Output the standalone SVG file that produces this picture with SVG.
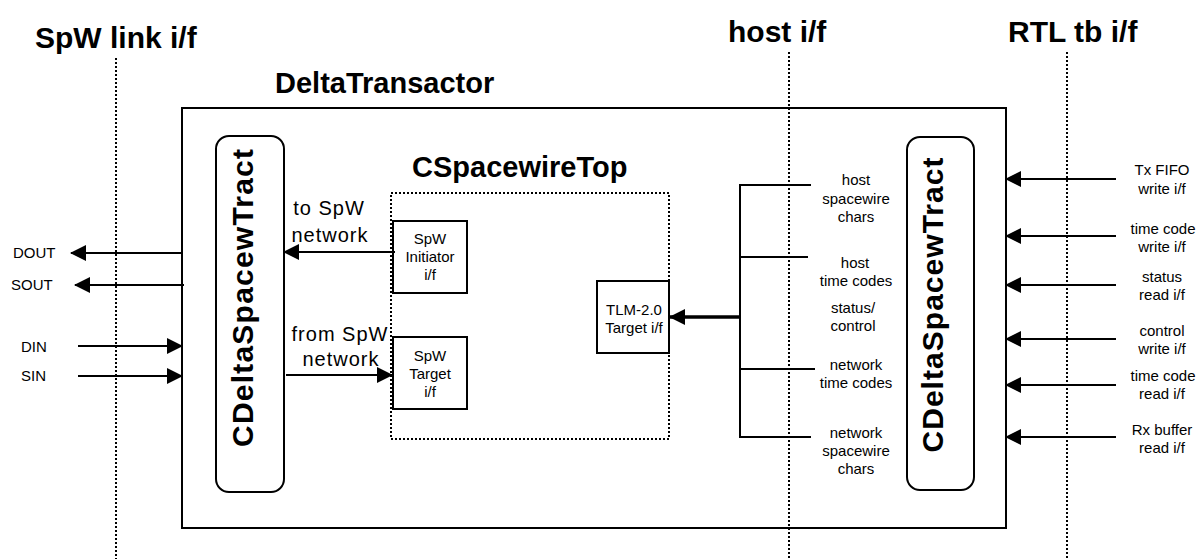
<svg xmlns="http://www.w3.org/2000/svg" width="1200" height="559" viewBox="0 0 1200 559">
  <style>
    .bg { fill: #ffffff; }
    .box { fill: none; stroke: #000; stroke-width: 2; }
    .dot { fill: none; stroke: #000; stroke-width: 2; stroke-dasharray: 2 2; }
    .wire { fill: none; stroke: #000; stroke-width: 2; }
    .thick { fill: none; stroke: #000; stroke-width: 3.5; }
    .t { font-family: "Liberation Sans", Arial, sans-serif; fill: #000; }
    .title { font-size: 30px; font-weight: bold; }
    .hdr { font-size: 29px; font-weight: bold; }
    .vert { font-size: 30px; font-weight: bold; }
    .sm { font-size: 15px; }
    .net { font-size: 20px; letter-spacing: 1px; }
    .mid { text-anchor: middle; }
  </style>
  <defs>
    <marker id="arrow" viewBox="0 0 16 16" refX="15" refY="8" markerWidth="16" markerHeight="16" markerUnits="userSpaceOnUse" orient="auto">
      <path d="M0,0 L16,8 L0,16 Z" fill="#000"/>
    </marker>
  </defs>

  <rect class="bg" x="0" y="0" width="1200" height="559"/>

  <!-- interface boundaries -->
  <g id="boundaries">
    <line class="dot" x1="116" y1="58" x2="116" y2="559"/>
    <line class="dot" x1="789" y1="52" x2="789" y2="559"/>
    <line class="dot" x1="1067" y1="52" x2="1067" y2="559"/>
    <text class="t title" x="35" y="48">SpW link i/f</text>
    <text class="t title" x="728" y="42">host i/f</text>
    <text class="t title" x="1008" y="42">RTL tb i/f</text>
  </g>

  <!-- outer transactor -->
  <g id="delta-transactor">
    <rect class="box" x="182" y="108" width="824" height="420"/>
    <text class="t hdr" x="275" y="93">DeltaTransactor</text>
  </g>

  <!-- link-side tract -->
  <g id="tract-left">
    <rect class="box" x="216" y="136" width="68" height="356" rx="13" ry="13"/>
    <text class="t vert mid" transform="translate(253,298) rotate(-90)" textLength="298" lengthAdjust="spacing">CDeltaSpacewTract</text>
  </g>

  <!-- RTL-side tract -->
  <g id="tract-right">
    <rect class="box" x="907" y="137" width="67" height="353" rx="13" ry="13"/>
    <text class="t vert mid" transform="translate(943,305) rotate(-90)" textLength="295" lengthAdjust="spacing">CDeltaSpacewTract</text>
  </g>

  <!-- spacewire top -->
  <g id="spacewire-top">
    <rect class="dot" x="391" y="193" width="278" height="246"/>
    <text class="t hdr" x="412" y="177">CSpacewireTop</text>
  </g>

  <g id="spw-initiator">
    <rect class="box" x="393" y="221" width="74" height="72"/>
    <text class="t sm mid" x="430" y="244">SpW</text>
    <text class="t sm mid" x="430" y="262">Initiator</text>
    <text class="t sm mid" x="430" y="280">i/f</text>
  </g>

  <g id="spw-target">
    <rect class="box" x="393" y="337" width="74" height="72"/>
    <text class="t sm mid" x="430" y="361">SpW</text>
    <text class="t sm mid" x="430" y="379">Target</text>
    <text class="t sm mid" x="430" y="397">i/f</text>
  </g>

  <g id="tlm-target">
    <rect class="box" x="597" y="281" width="72" height="72"/>
    <text class="t sm mid" x="634" y="315">TLM-2.0</text>
    <text class="t sm mid" x="634" y="333">Target i/f</text>
  </g>

  <!-- connectors -->
  <g id="connectors">
    <!-- link pins -->
    <line class="wire" x1="182" y1="253" x2="71" y2="253" marker-end="url(#arrow)"/>
    <line class="wire" x1="184" y1="285" x2="75" y2="285" marker-end="url(#arrow)"/>
    <line class="wire" x1="78" y1="346" x2="182" y2="346" marker-end="url(#arrow)"/>
    <line class="wire" x1="78" y1="376" x2="182" y2="376" marker-end="url(#arrow)"/>

    <!-- SpW network paths -->
    <line class="wire" x1="395" y1="252" x2="284" y2="252" marker-end="url(#arrow)"/>
    <line class="wire" x1="286" y1="375" x2="392" y2="375" marker-end="url(#arrow)"/>

    <!-- host bus -->
    <polyline class="wire" points="811,185 740,185 740,437 811,437"/>
    <line class="wire" x1="740" y1="257" x2="808" y2="257"/>
    <line class="wire" x1="740" y1="369" x2="815" y2="369"/>
    <line class="thick" x1="740" y1="317" x2="670" y2="317" marker-end="url(#arrow)"/>

    <!-- RTL testbench interfaces -->
    <line class="wire" x1="1116" y1="179" x2="1006" y2="179" marker-end="url(#arrow)"/>
    <line class="wire" x1="1116" y1="236" x2="1006" y2="236" marker-end="url(#arrow)"/>
    <line class="wire" x1="1116" y1="285" x2="1006" y2="285" marker-end="url(#arrow)"/>
    <line class="wire" x1="1116" y1="339" x2="1006" y2="339" marker-end="url(#arrow)"/>
    <line class="wire" x1="1116" y1="385" x2="1006" y2="385" marker-end="url(#arrow)"/>
    <line class="wire" x1="1116" y1="437" x2="1006" y2="437" marker-end="url(#arrow)"/>
  </g>

  <!-- connector labels -->
  <g id="labels">
    <text class="t sm" x="13" y="258">DOUT</text>
    <text class="t sm" x="11" y="290">SOUT</text>
    <text class="t sm" x="21" y="352">DIN</text>
    <text class="t sm" x="21" y="381">SIN</text>

    <text class="t net mid" x="329" y="215">to SpW</text>
    <text class="t net mid" x="330" y="242">network</text>
    <text class="t net mid" x="340" y="341">from SpW</text>
    <text class="t net mid" x="341" y="366">network</text>

    <text class="t sm mid" x="856" y="185">host</text>
    <text class="t sm mid" x="856" y="204">spacewire</text>
    <text class="t sm mid" x="856" y="222">chars</text>
    <text class="t sm mid" x="855" y="268">host</text>
    <text class="t sm mid" x="856" y="286">time codes</text>
    <text class="t sm mid" x="853" y="313">status/</text>
    <text class="t sm mid" x="853" y="331">control</text>
    <text class="t sm mid" x="856" y="370">network</text>
    <text class="t sm mid" x="856" y="388">time codes</text>
    <text class="t sm mid" x="856" y="438">network</text>
    <text class="t sm mid" x="856" y="456">spacewire</text>
    <text class="t sm mid" x="856" y="474">chars</text>

    <text class="t sm mid" x="1162" y="175">Tx FIFO</text>
    <text class="t sm mid" x="1162" y="194">write i/f</text>
    <text class="t sm mid" x="1163" y="234">time code</text>
    <text class="t sm mid" x="1162" y="252">write i/f</text>
    <text class="t sm mid" x="1162" y="282">status</text>
    <text class="t sm mid" x="1162" y="300">read i/f</text>
    <text class="t sm mid" x="1162" y="336">control</text>
    <text class="t sm mid" x="1162" y="354">write i/f</text>
    <text class="t sm mid" x="1163" y="381">time code</text>
    <text class="t sm mid" x="1162" y="399">read i/f</text>
    <text class="t sm mid" x="1162" y="435">Rx buffer</text>
    <text class="t sm mid" x="1162" y="453">read i/f</text>
  </g>
</svg>
